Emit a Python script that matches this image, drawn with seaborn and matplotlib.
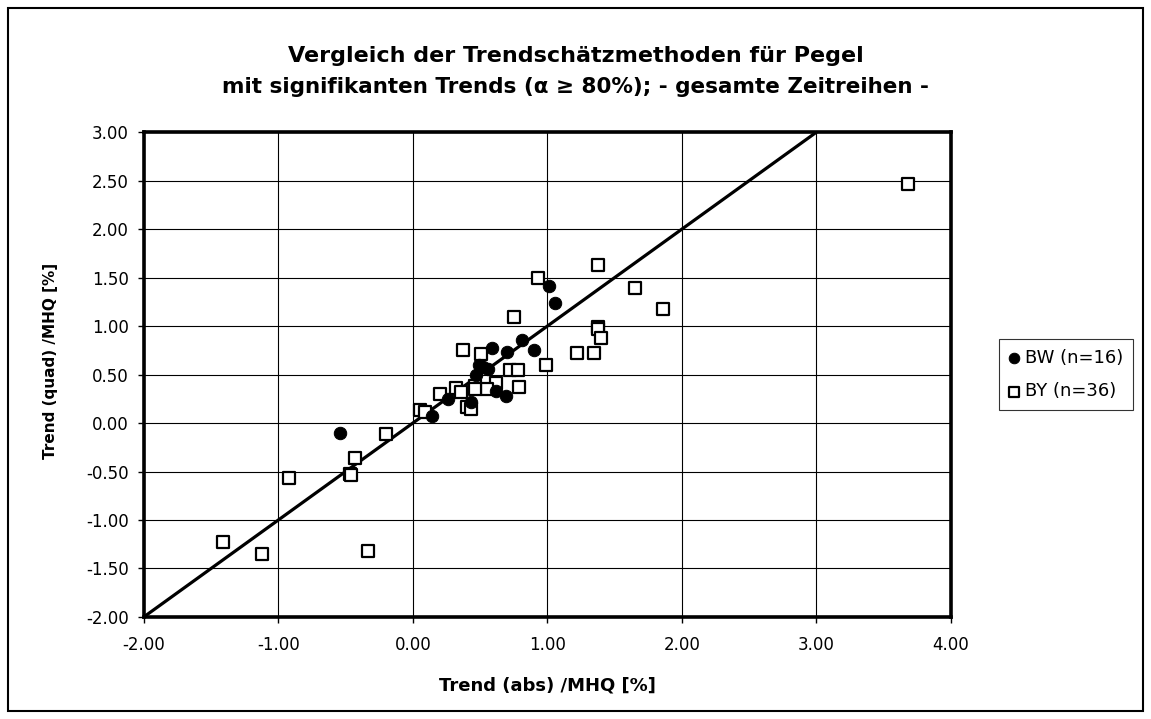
import pandas as pd
import matplotlib.pyplot as plt
import seaborn as sns
from matplotlib.patches import Rectangle

# BW stations (filled circles)
bw_abs = [1.01, 1.06, 0.81, 0.59, 0.70, 0.90, 0.49, 0.56, 0.47, 0.52,
          0.62, 0.69, 0.43, 0.26, 0.14, -0.54]
bw_quad = [1.41, 1.24, 0.86, 0.77, 0.73, 0.75, 0.60, 0.56, 0.50, 0.58,
           0.33, 0.28, 0.22, 0.25, 0.07, -0.10]

# BY stations (open squares)
by_abs = [1.38, 0.93, 1.65, 1.86, 0.75, 1.38, 1.38, 1.40, 0.37, 0.51,
          1.22, 1.35, 0.99, 0.72, 0.78, 0.32, 0.46, 0.62, 0.55, 0.79,
          0.20, 0.36, 0.46, 0.40, 0.43, 0.05, 0.09, -0.20, -0.92, -0.47,
          -0.46, -0.43, -1.41, -1.12, -0.33, 3.68]
by_quad = [1.63, 1.50, 1.39, 1.18, 1.09, 0.99, 0.97, 0.88, 0.75, 0.71,
           0.72, 0.72, 0.60, 0.55, 0.55, 0.36, 0.38, 0.41, 0.35, 0.37,
           0.30, 0.32, 0.35, 0.17, 0.15, 0.13, 0.11, -0.11, -0.57, -0.53,
           -0.54, -0.36, -1.23, -1.35, -1.32, 2.47]

line_pts = [-2.0, 3.0]
x_ticks = [-2, -1, 0, 1, 2, 3, 4]
y_ticks = [-2.0, -1.5, -1.0, -0.5, 0.0, 0.5, 1.0, 1.5, 2.0, 2.5, 3.0]

sns.set_style("white")
plt.rcParams['font.family'] = ['DejaVu Sans']
plt.rcParams['text.color'] = 'black'
plt.rcParams['axes.labelcolor'] = 'black'
plt.rcParams['xtick.color'] = 'black'
plt.rcParams['ytick.color'] = 'black'

fig = plt.figure(figsize=(11.51, 7.19), dpi=100)
ax = fig.add_axes([0.125, 0.142, 0.701, 0.674])

# outer frame around the whole chart
fig.patches.append(Rectangle((0.007, 0.011), 0.986, 0.978, transform=fig.transFigure,
                             fill=False, edgecolor='black', linewidth=1.5))

ax.set_xlim(-2, 4)
ax.set_ylim(-2, 3)
ax.set_xticks(x_ticks)
ax.set_yticks(y_ticks)
ax.set_xticklabels([f"{v:.2f}" for v in x_ticks], fontsize=12)
ax.set_yticklabels([f"{v:.2f}" for v in y_ticks], fontsize=12)
ax.grid(True, color='black', linewidth=0.8)
ax.set_axisbelow(True)
for s in ax.spines.values():
    s.set_linewidth(2.6)
    s.set_color('black')
ax.tick_params(direction='out', length=4, width=1, colors='black')
ax.tick_params(axis='x', pad=10)
ax.tick_params(axis='y', pad=7)
ax.tick_params(axis='both', which='both', left=True, bottom=True)

sns.lineplot(x=line_pts, y=line_pts, ax=ax, color='black', linewidth=2.3, zorder=3)

df_bw = pd.DataFrame({'abs': bw_abs, 'quad': bw_quad})
df_by = pd.DataFrame({'abs': by_abs, 'quad': by_quad})
sns.scatterplot(data=df_by, x='abs', y='quad', ax=ax, marker='s', s=85,
                facecolor='white', edgecolor='black', linewidth=1.6,
                label='BY (n=36)', zorder=4)
sns.scatterplot(data=df_bw, x='abs', y='quad', ax=ax, marker='o', s=80,
                color='black', edgecolor='black', label='BW (n=16)', zorder=5)

ax.set_xlabel("Trend (abs) /MHQ [%]", fontsize=13, fontweight='bold', color='black')
ax.set_ylabel("Trend (quad) /MHQ [%]", fontsize=11, fontweight='bold', color='black')
ax.xaxis.set_label_coords(0.5, -0.142)
ax.xaxis.label.set_va('center')
ax.yaxis.set_label_coords(-0.116, 0.528)
ax.yaxis.label.set_va('center')

fig.text(0.5, 0.922, "Vergleich der Trendschätzmethoden für Pegel", ha='center',
         va='center', fontsize=16, fontweight='bold', color='black')
fig.text(0.5, 0.879, "mit signifikanten Trends (α ≥ 80%); - gesamte Zeitreihen -",
         ha='center', va='center', fontsize=15.5, fontweight='bold', color='black')

handles, labels = ax.get_legend_handles_labels()
order = [labels.index('BW (n=16)'), labels.index('BY (n=36)')]
leg = ax.legend([handles[i] for i in order], [labels[i] for i in order],
                loc='upper left', bbox_to_anchor=(0.868, 0.5285),
                bbox_transform=fig.transFigure, fontsize=13,
                frameon=True, fancybox=False, edgecolor='black',
                handletextpad=0.3, handlelength=0.6, borderpad=0.55,
                labelspacing=0.85, markerscale=0.85, borderaxespad=0)
leg.get_frame().set_linewidth(0.8)
for t in leg.get_texts():
    t.set_color('black')

fig.savefig("out.png", dpi=100)
plt.close(fig)
